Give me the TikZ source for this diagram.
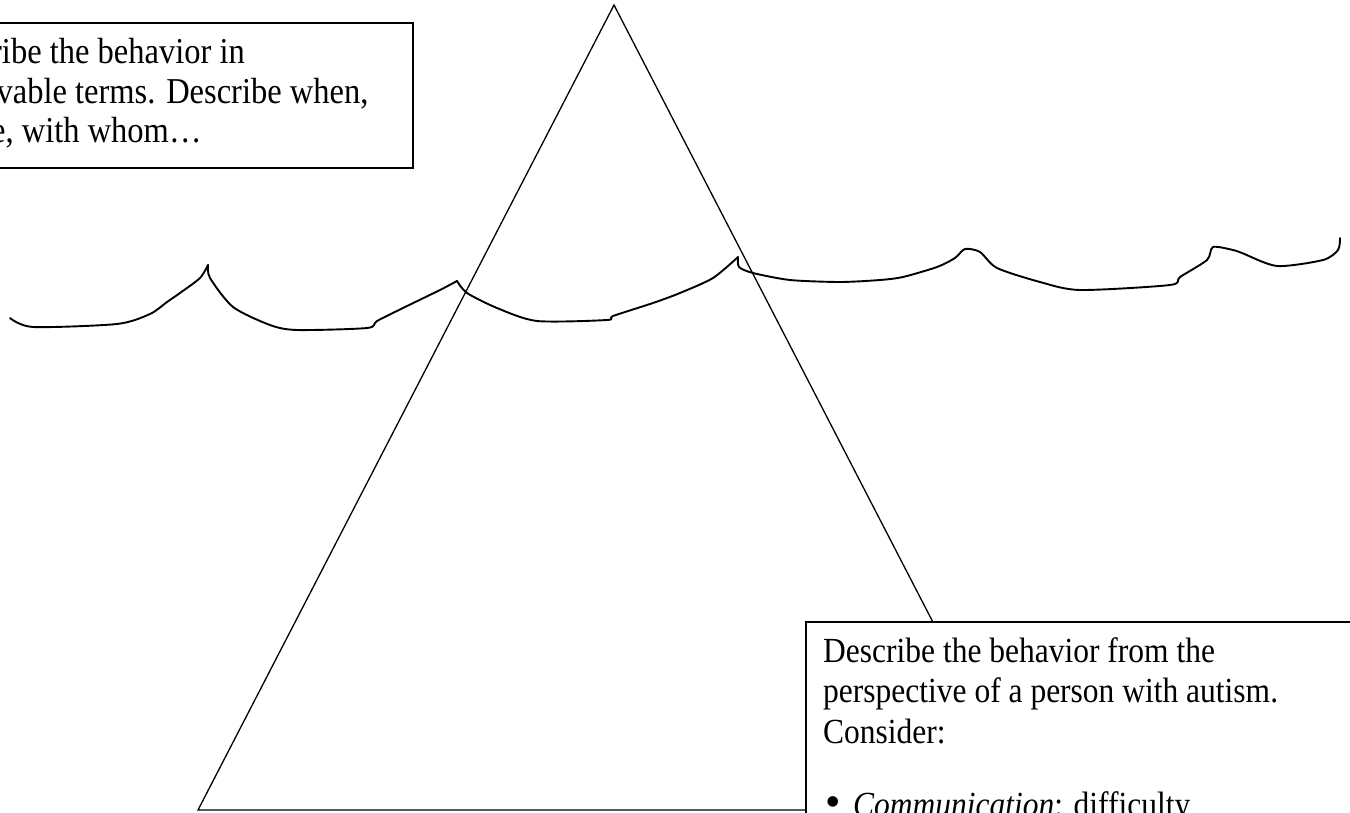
\documentclass[tikz,border=0pt]{standalone}
\usepackage{fontspec}
\setmainfont{Liberation Serif}
\begin{document}
\begin{tikzpicture}[x=1pt,y=-1pt,
  edge/.style={line width=1.3pt, black},
  wave/.style={line width=1.9pt, black, line join=round, line cap=round},
  textbox/.style={draw=black, line width=2pt, fill=white, rectangle, inner sep=0pt, anchor=north west},
  txt/.style={anchor=base west, inner sep=0pt, font=\fontsize{32.5}{40}\selectfont},
  txtb/.style={anchor=base west, inner sep=0pt, font=\fontsize{31.5}{40}\selectfont}]
\newcommand{\tall}[1]{\scalebox{1}[1.12]{#1}}
\useasboundingbox (0,0) rectangle (1350,813);
\clip (0,0) rectangle (1350,813);
\fill[white] (0,0) rectangle (1350,813);
% iceberg triangle
\coordinate (apex) at (614,5);
\coordinate (bl) at (198,810);
\coordinate (br) at (1030,810);
\draw[edge] (apex) -- (bl) -- (br) -- cycle;
% water line
\draw[wave] plot[smooth, tension=0.45] coordinates {(10,318) (33,327) (117,324) (150,314) (167,302) (180,293) (200,278) (208,265)};
\draw[wave] plot[smooth, tension=0.45] coordinates {(208,265) (210,278) (233,307) (270,325) (297,330) (367,328) (377,321) (403,308) (440,290) (457,281)};
\draw[wave] plot[smooth, tension=0.45] coordinates {(457,281) (467,293) (497,308) (537,321) (607,320) (613,316) (653,303) (680,293) (713,278) (738,257)};
\draw[wave] plot[smooth, tension=0.45] coordinates {(738,257) (739,267) (753,273) (790,280) (840,282) (880,280) (903,277) (937,267) (955,258) (965,249) (980,252) (997,268) (1040,282) (1080,290) (1170,285) (1180,277) (1207,260) (1213,247) (1233,250) (1242,253) (1277,266) (1323,260) (1338,250) (1340,238)};
% top-left box
\node[textbox, minimum width=432pt, minimum height=145pt] (topbox) at (-20,22) {};
\node[txt] (t1) at (-74,64) {\tall{Describe the behavior in}};
\node[txt] (t2) at (-74,104) {\tall{observable terms. Describe when,}};
\node[txt] (t3) at (-74,143) {\tall{where, with whom…}};
% bottom-right box
\node[textbox, minimum width=580pt, minimum height=220pt] (botbox) at (805,621) {};
\node[txtb] (b1) at (823,662) {\tall{Describe the behavior from the}};
\node[txtb] (b2) at (823,702) {\tall{perspective of a person with autism.}};
\node[txtb] (b3) at (823,743) {\tall{Consider:}};
\node[txtb] (b4) at (825,816) {\scalebox{1.4}{•}};
\node[txtb] (b5) at (853,816) {\tall{\textit{Communication}: difficulty}};
\end{tikzpicture}
\end{document}
